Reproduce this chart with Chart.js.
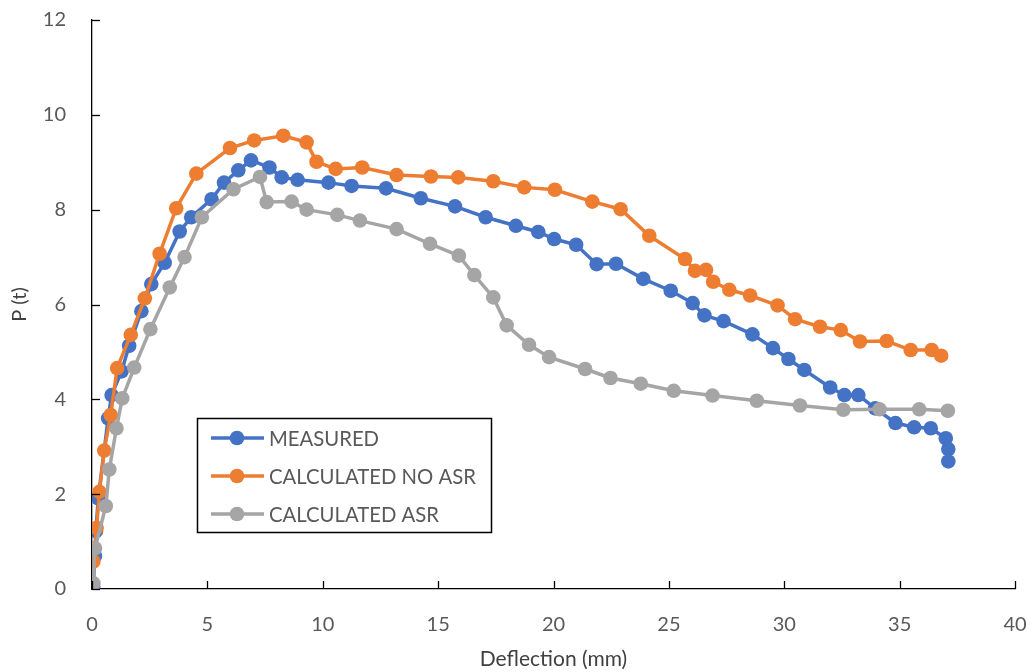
<!DOCTYPE html>
<html>
<head>
<meta charset="utf-8">
<style>
  html, body { margin: 0; padding: 0; background: #fff; }
  canvas { display: block; }
</style>
<script src="https://cdn.jsdelivr.net/npm/chart.js@4.4.0/dist/chart.umd.min.js"></script>
</head>
<body>
<canvas id="chart" width="1033" height="672"></canvas>
<script>
// data (deflection mm, load t)
const seriesNames = ['MEASURED', 'CALCULATED NO ASR', 'CALCULATED ASR'];

const measuredX = [0.05, 0.13, 0.17, 0.27, 0.7, 0.85, 1.28, 1.61, 2.14, 2.57, 3.15, 3.8, 4.3, 5.18, 5.72, 6.34, 6.89, 7.69, 8.22, 8.91,
  10.25, 11.25, 12.74, 14.25, 15.73, 17.06, 18.37, 19.34, 20.03, 20.98, 21.87, 22.71, 23.89, 25.08, 26.03, 26.54, 27.37, 28.62,
  29.51, 30.18, 30.87, 31.99, 32.61, 33.21, 33.94, 34.82, 35.63, 36.35, 37.0, 37.11, 37.11];
const measuredY = [0.05, 0.7, 1.22, 1.91, 3.6, 4.09, 4.59, 5.13, 5.86, 6.43, 6.88, 7.54, 7.84, 8.22, 8.57, 8.83, 9.04, 8.89, 8.68, 8.63,
  8.57, 8.5, 8.45, 8.24, 8.07, 7.84, 7.66, 7.53, 7.38, 7.26, 6.85, 6.86, 6.54, 6.29, 6.03, 5.77, 5.65, 5.37,
  5.08, 4.85, 4.62, 4.25, 4.09, 4.09, 3.81, 3.5, 3.41, 3.39, 3.18, 2.95, 2.69];

const noAsrX = [0.0, 0.06, 0.2, 0.32, 0.53, 0.81, 1.09, 1.68, 2.29, 2.93, 3.65, 4.52, 5.98, 7.03, 8.29, 9.3, 9.73, 10.56, 11.71,
  13.2, 14.69, 15.87, 17.39, 18.73, 20.06, 21.68, 22.91, 24.15, 25.7, 26.13, 26.61, 26.92, 27.62, 28.52, 29.71, 30.47,
  31.55, 32.45, 33.28, 34.44, 35.48, 36.39, 36.8];
const noAsrY = [0.1, 0.58, 1.29, 2.05, 2.92, 3.67, 4.66, 5.36, 6.13, 7.07, 8.03, 8.76, 9.3, 9.46, 9.56, 9.42, 9.01, 8.86, 8.89,
  8.73, 8.7, 8.68, 8.6, 8.47, 8.42, 8.17, 8.01, 7.45, 6.96, 6.71, 6.73, 6.48, 6.31, 6.19, 5.98, 5.69,
  5.53, 5.46, 5.22, 5.23, 5.04, 5.04, 4.92];

const asrX = [0.06, 0.13, 0.6, 0.75, 1.06, 1.31, 1.83, 2.53, 3.37, 4.01, 4.76, 6.13, 7.28, 7.57, 8.65, 9.3, 10.63, 11.61, 13.2,
  14.65, 15.9, 16.57, 17.39, 17.97, 18.94, 19.81, 21.37, 22.47, 23.78, 25.21, 26.89, 28.81, 30.68, 32.56, 34.13, 35.85, 37.09];
const asrY = [0.12, 0.86, 1.75, 2.52, 3.39, 4.02, 4.67, 5.48, 6.36, 7.0, 7.84, 8.43, 8.69, 8.16, 8.17, 8.0, 7.89, 7.77, 7.59,
  7.28, 7.03, 6.62, 6.15, 5.56, 5.15, 4.89, 4.64, 4.45, 4.33, 4.18, 4.08, 3.97, 3.87, 3.78, 3.79, 3.79, 3.76];

const xTicks = [0, 5, 10, 15, 20, 25, 30, 35, 40];
const yTicks = [0, 2, 4, 6, 8, 10, 12];
const colors = ['#4472C4', '#ED7D31', '#A5A5A5'];

const FONT = 'Lato, "Liberation Sans", sans-serif';

function toPoints(xs, ys) {
  return xs.map((x, i) => ({ x: x, y: ys[i] }));
}

function makeSet(i, xs, ys, order) {
  return {
    label: seriesNames[i],
    data: toPoints(xs, ys),
    borderColor: colors[i],
    backgroundColor: colors[i],
    borderWidth: 3.5,
    pointRadius: 7.3,
    pointBorderWidth: 0,
    pointBackgroundColor: colors[i],
    tension: 0,
    showLine: true,
    order: order
  };
}

// inward tick marks like the original
const innerTicks = {
  id: 'innerTicks',
  afterDatasetsDraw(chart) {
    const ctx = chart.ctx;
    const xs = chart.scales.x, ys = chart.scales.y;
    ctx.save();
    ctx.strokeStyle = '#000';
    ctx.lineWidth = 1.3;
    xTicks.forEach(v => {
      const px = Math.round(xs.getPixelForValue(v)) + 0.5;
      ctx.beginPath();
      ctx.moveTo(px, ys.bottom);
      ctx.lineTo(px, ys.bottom - 8);
      ctx.stroke();
    });
    yTicks.forEach(v => {
      const py = Math.round(ys.getPixelForValue(v)) + 0.5;
      ctx.beginPath();
      ctx.moveTo(xs.left, py);
      ctx.lineTo(xs.left + 8, py);
      ctx.stroke();
    });
    ctx.restore();
  }
};

// boxed legend inside the plot
const boxLegend = {
  id: 'boxLegend',
  afterDraw(chart) {
    const ctx = chart.ctx;
    const bx = 197, by = 418, bw = 294, bh = 114;
    ctx.save();
    ctx.fillStyle = '#fff';
    ctx.fillRect(bx, by, bw, bh);
    ctx.strokeStyle = '#000';
    ctx.lineWidth = 1.5;
    ctx.strokeRect(bx + 0.5, by + 0.5, bw, bh);
    ctx.font = '20.3px ' + FONT;
    ctx.textBaseline = 'middle';
    seriesNames.forEach((name, i) => {
      const ry = by + 20 + i * 38;
      ctx.strokeStyle = colors[i];
      ctx.lineWidth = 3.5;
      ctx.beginPath();
      ctx.moveTo(bx + 14, ry);
      ctx.lineTo(bx + 67, ry);
      ctx.stroke();
      ctx.fillStyle = colors[i];
      ctx.beginPath();
      ctx.arc(bx + 40, ry, 7.3, 0, Math.PI * 2);
      ctx.fill();
      ctx.fillStyle = '#595959';
      ctx.fillText(name, bx + 72, ry + 1);
    });
    ctx.restore();
  }
};

new Chart(document.getElementById('chart'), {
  type: 'scatter',
  data: {
    datasets: [
      makeSet(0, measuredX, measuredY, 2),
      makeSet(1, noAsrX, noAsrY, 1),
      makeSet(2, asrX, asrY, 0)
    ]
  },
  options: {
    responsive: false,
    animation: false,
    layout: { padding: { top: 20, right: 18, left: 0, bottom: 0 } },
    plugins: {
      legend: { display: false },
      tooltip: { enabled: false }
    },
    scales: {
      x: {
        type: 'linear',
        min: 0, max: 40,
        afterBuildTicks: s => { s.ticks = xTicks.map(v => ({ value: v })); },
        afterFit: s => { s.height = 83; s.paddingLeft = 0; s.paddingRight = 0; },
        grid: { display: false },
        border: { display: true, color: '#000', width: 1.3 },
        ticks: { color: '#595959', font: { family: FONT, size: 20 }, padding: 16 },
        title: { display: true, text: 'Deflection (mm)', color: '#404040', font: { family: FONT, size: 21 }, padding: { top: 4, bottom: 0 } }
      },
      y: {
        type: 'linear',
        min: 0, max: 12,
        afterBuildTicks: s => { s.ticks = yTicks.map(v => ({ value: v })); },
        afterFit: s => { s.width = 92; s.paddingTop = 0; s.paddingBottom = 0; },
        grid: { display: false },
        border: { display: true, color: '#000', width: 1.3 },
        ticks: { color: '#595959', font: { family: FONT, size: 20 }, padding: 18 },
        title: { display: true, text: 'P (t)', color: '#404040', font: { family: FONT, size: 20 }, padding: { top: 8, bottom: 4 } }
      }
    }
  },
  plugins: [innerTicks, boxLegend]
});
</script>
</body>
</html>
